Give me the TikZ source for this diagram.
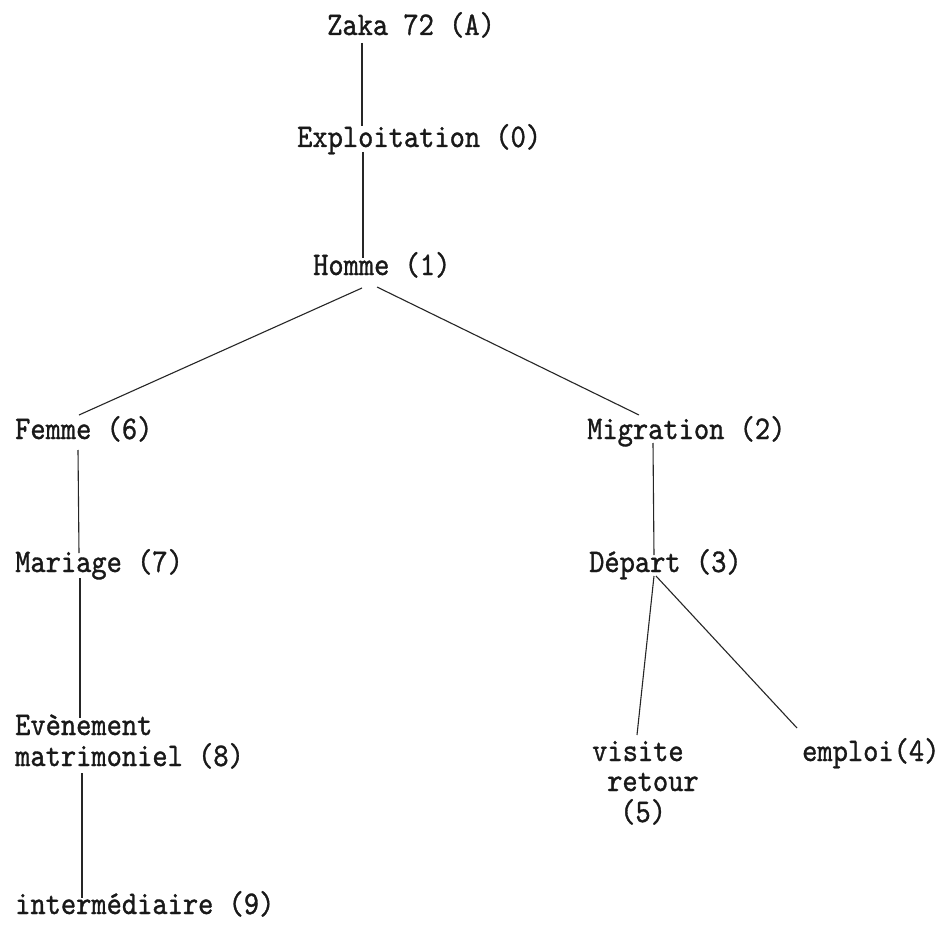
\documentclass[tikz,border=0pt]{standalone}
\usepackage{fontspec}
\newfontfamily\tw{lmmono10-regular}[Extension=.otf,FakeStretch=0.88,FakeBold=1]
\usetikzlibrary{calc}
\begin{document}
\begin{tikzpicture}[x=1pt,y=-1pt,
  lbl/.style={anchor=base west,inner sep=0pt,font=\tw\fontsize{33}{30}\selectfont,text=black!90},
  edge/.style={draw=black!85,line width=1.1pt}]
\useasboundingbox[fill=white] (0,0) rectangle (946,939);
% nodes
\node[lbl] (zaka)   at (327,35)  {Zaka 72 (A)};
\node[lbl] (expl)   at (297,147) {Exploitation (0)};
\node[lbl] (homme)  at (313,275) {Homme (1)};
\node[lbl] (femme)  at (15,439)  {Femme (6)};
\node[lbl] (migr)   at (587,439) {Migration (2)};
\node[lbl] (mar)    at (15,572)  {Mariage (7)};
\node[lbl] (dep)    at (589,572) {Départ (3)};
\node[lbl,align=left] (even) at (15,766) {Evènement\\[1pt]matrimoniel (8)};
\node[lbl,align=left] (visite) at (592,822) {visite\\[0pt]\hspace*{15pt}retour\\[1pt]\hspace*{28pt}(5)};
\node[lbl] (emploi) at (802,761) {emploi(4)};
\node[lbl] (inter)  at (15,914)  {intermédiaire (9)};
% connectors
\draw[edge] ($(zaka.base west)+(35,8)$) -- ($(expl.base west)+(65,-21)$);
\draw[edge] ($(expl.base west)+(66,5)$) -- ($(homme.base west)+(50,-17)$);
\draw[edge] ($(homme.base west)+(49,13)$) -- ($(femme.base west)+(64,-24)$);
\draw[edge] ($(homme.base west)+(64,12)$) -- ($(migr.base west)+(52,-24)$);
\draw[edge] ($(femme.base west)+(63,11)$) -- ($(mar.base west)+(64,-19)$);
\draw[edge] ($(mar.base west)+(65,6)$) -- ($(even.base west)+(65,-48)$);
\draw[edge] ($(even.base west)+(67,7)$) -- ($(inter.base west)+(67,-16)$);
\draw[edge] ($(migr.base west)+(66,4)$) -- ($(dep.base west)+(65,-17)$);
\draw[edge] ($(dep.base west)+(65,4)$) -- ($(visite.base west)+(45,-87)$);
\draw[edge] ($(dep.base west)+(67,4)$) -- ($(emploi.base west)+(-5,-33)$);
\end{tikzpicture}
\end{document}
